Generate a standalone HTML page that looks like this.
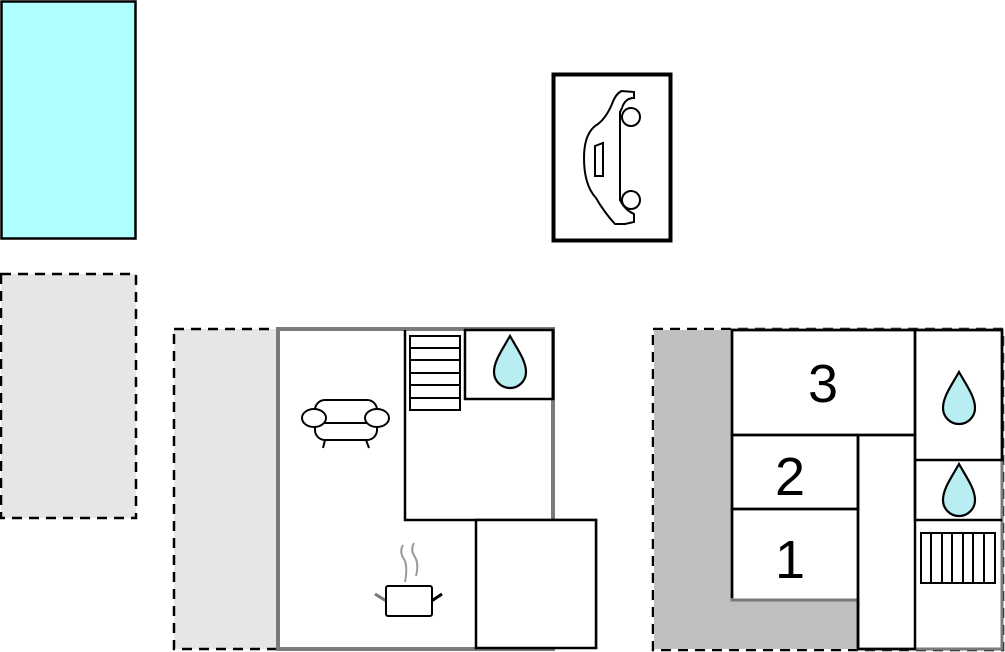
<!DOCTYPE html>
<html><head><style>html,body{margin:0;padding:0;background:#fff}svg{display:block}</style></head>
<body>
<svg width="1005" height="652" viewBox="0 0 1005 652" xmlns="http://www.w3.org/2000/svg" font-family="Liberation Sans, sans-serif">
<defs>
<path id="drop" d="M0,-28 C-8,-14 -16,-3 -16,8 A16,16 0 0 0 16,8 C16,-3 8,-14 0,-28 Z" fill="#b8eef2" stroke="#000" stroke-width="2.2"/>
</defs>
<rect x="1.5" y="1.5" width="134" height="237" fill="#b0ffff" stroke="#000" stroke-width="2.5"/>
<rect x="1" y="274" width="135" height="244" fill="#e6e6e6" stroke="#000" stroke-width="2.5" stroke-dasharray="10,7"/>

<!-- car -->
<rect x="553.5" y="74.5" width="117" height="166" fill="#fff" stroke="#000" stroke-width="4"/>
<g fill="none" stroke="#000" stroke-width="2">
<path d="M634,92 L634,98 Q625,98 622,108 L620,112 L620,200 Q625,210 634,214 L634,222 L625,224 L615,224 Q604,212 596,198 Q584,185 584,158 Q584,132 598,124 Q606,118 612,104 Q616,93 622,91 Z"/>
<circle cx="631" cy="117" r="9"/><circle cx="631" cy="200" r="9"/>
<path d="M595,146 L603,143 L603,176 L595,176 Z"/>
</g>

<!-- left plan -->
<rect x="174" y="329" width="104" height="320" fill="#e6e6e6" stroke="#000" stroke-width="2.5" stroke-dasharray="10,7"/>
<rect x="278" y="329" width="275" height="320" fill="#fff" stroke="#7a7a7a" stroke-width="4"/>
<path d="M405,330 L405,520 L596,520 L596,649" fill="none" stroke="#000" stroke-width="2.5"/>
<rect x="476" y="520" width="120" height="128" fill="#fff" stroke="#000" stroke-width="2.5"/>
<rect x="465" y="330" width="88" height="69" fill="#fff" stroke="#000" stroke-width="2.5"/>
<path d="M553,330 L553,399" stroke="#000" stroke-width="3"/>
<use href="#drop" x="510" y="364"/>
<g fill="none" stroke="#000" stroke-width="2">
<rect x="410" y="336" width="50" height="74"/>
<path d="M410,348 H460 M410,360 H460 M410,373 H460 M410,385 H460 M410,398 H460"/>
</g>
<!-- sofa -->
<g fill="#fff" stroke="#000" stroke-width="2">
<path d="M325,440 L323,448 M366,440 L369,448"/>
<rect x="315" y="400" width="62" height="40" rx="10"/>
<path d="M318,423 H374"/>
<ellipse cx="314" cy="418" rx="12" ry="9"/>
<ellipse cx="377" cy="418" rx="12" ry="9"/>
</g>
<!-- pot -->
<g stroke-width="3" fill="none">
<path d="M403,545 Q399,552 404,559 Q408,566 405,582" stroke="#999" stroke-width="2"/>
<path d="M414,543 Q410,550 415,557 Q419,564 416,576" stroke="#999" stroke-width="2"/>
<path d="M375,594 L388,602" stroke="#777"/>
<path d="M430,602 L442,594" stroke="#000"/>
</g>
<rect x="386" y="586" width="46" height="30" rx="2" fill="#fff" stroke="#000" stroke-width="2"/>

<!-- right plan -->
<path d="M653,329 H1003 V650 H653 Z" fill="none" stroke="#000" stroke-width="2.5" stroke-dasharray="10,7"/>
<path d="M654,330 H732 V600 H858 V649 H654 Z" fill="#c0c0c0"/>
<path d="M732,330 H1002 V649 H858 V600 H732 Z" fill="#fff" stroke="#7a7a7a" stroke-width="3"/>
<g fill="none" stroke="#000" stroke-width="2.5">
<rect x="732" y="330" width="183" height="105"/>
<rect x="732" y="435" width="126" height="74"/>
<path d="M732,509 V598 M858,435 V649 M858,509 H732"/>
<rect x="858" y="435" width="57" height="214"/>
<rect x="915" y="330" width="87" height="130"/>
<path d="M915,460 V520 H1002"/>
</g>
<use href="#drop" x="959" y="400"/>
<use href="#drop" x="959" y="492"/>
<g fill="none" stroke="#000" stroke-width="2">
<rect x="921" y="533" width="74" height="50"/>
<path d="M931,533 V583 M942,533 V583 M952,533 V583 M963,533 V583 M973,533 V583 M984,533 V583"/>
</g>
<g font-size="54" text-anchor="middle" fill="#000">
<text x="823" y="402">3</text>
<text x="790" y="495">2</text>
<text x="790" y="578">1</text>
</g>
</svg>
</body></html>
